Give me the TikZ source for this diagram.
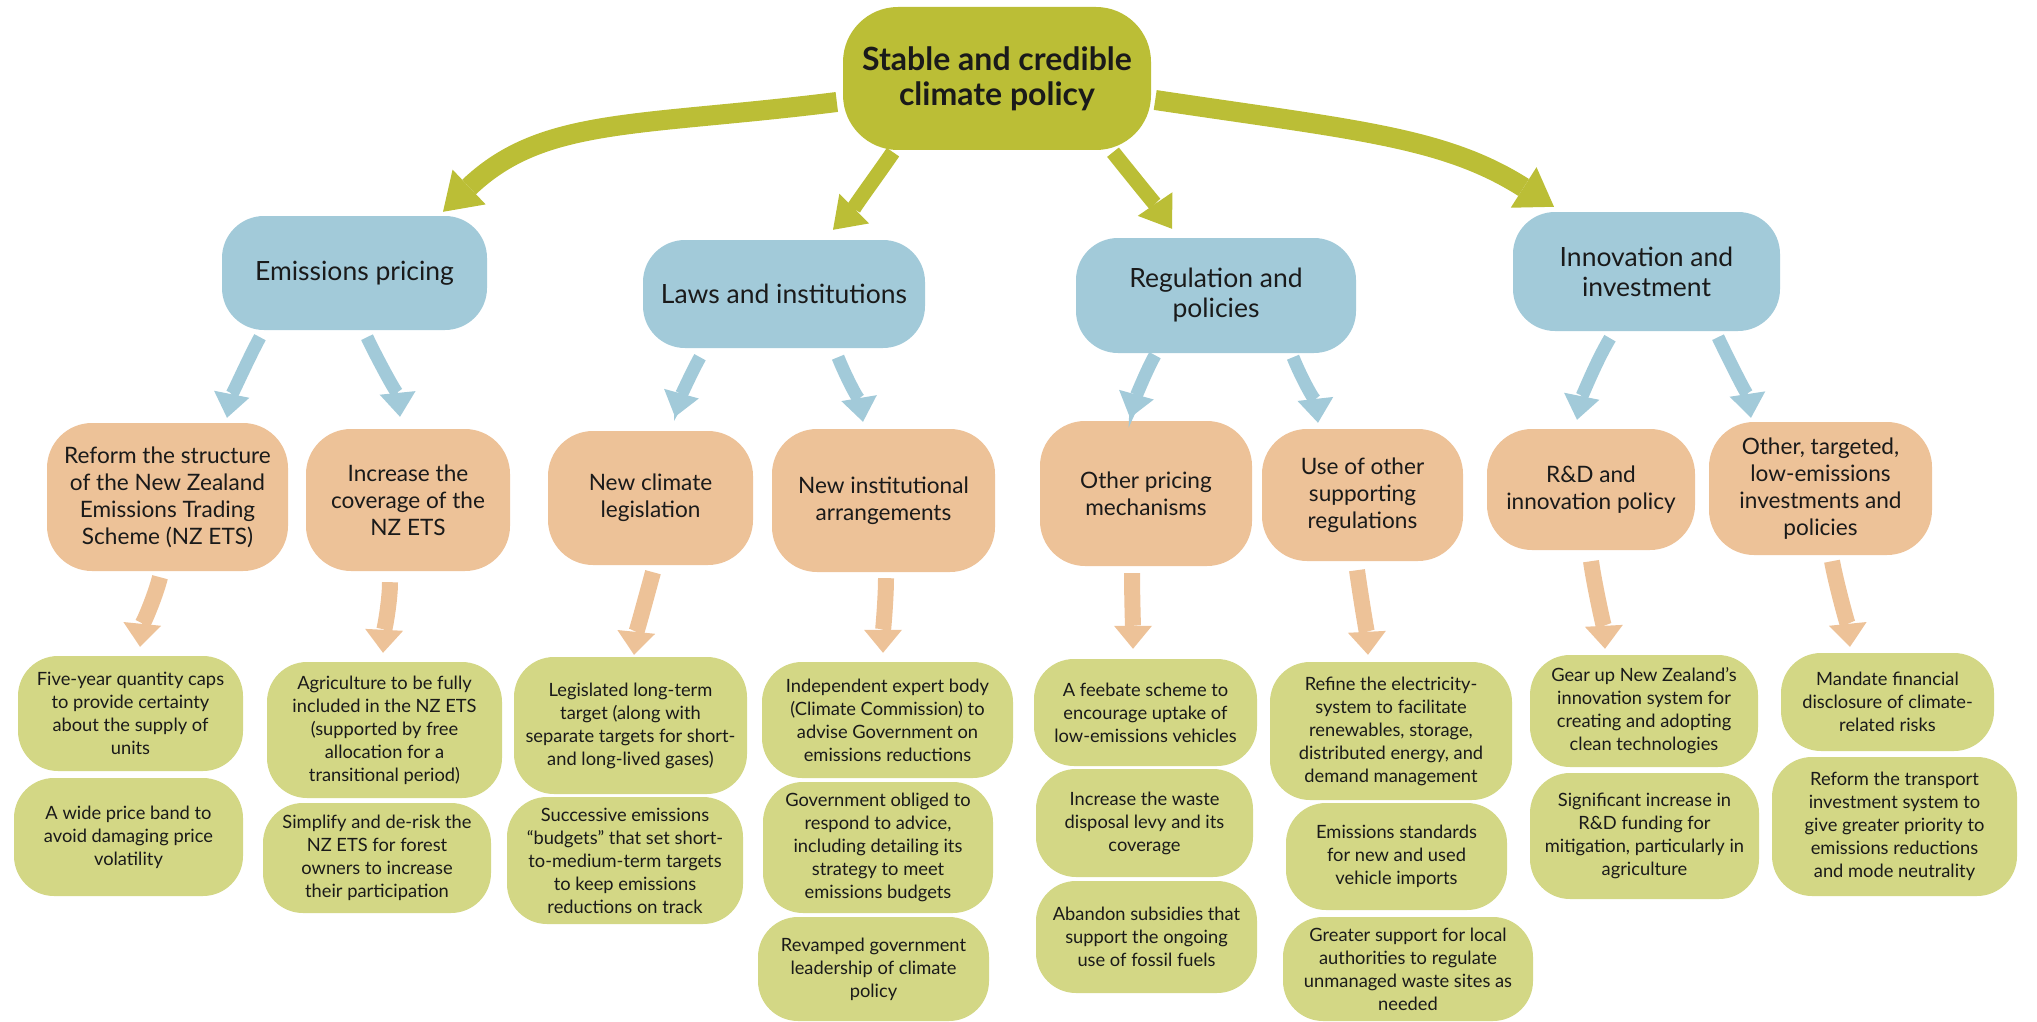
\documentclass[tikz,border=0pt]{standalone}
\usepackage{fontspec}
\setmainfont{Lato}
\usetikzlibrary{arrows.meta}
\definecolor{topg}{HTML}{BBBE36}
\definecolor{blu}{HTML}{A2CAD9}
\definecolor{ora}{HTML}{EDC298}
\definecolor{lgr}{HTML}{D3D785}
\definecolor{txt}{HTML}{1A1A1A}
\begin{document}
\begin{tikzpicture}[x=1pt,y=-1pt,
  every node/.style={inner sep=0pt, align=center, text=txt},
  wh/.style 2 args={minimum width=#1pt, minimum height=#2pt},
  topbox/.style={fill=topg, rounded corners=55pt, font=\fontsize{32}{35}\selectfont\bfseries},
  bluebox/.style={fill=blu, rounded corners=42pt, font=\fontsize{26.5}{30}\selectfont},
  orabox/.style={fill=ora, rounded corners=45pt, font=\fontsize{22.6}{27}\selectfont},
  grbox/.style={fill=lgr, rounded corners=40pt, font=\fontsize{18.3}{23}\selectfont},
  bigarrow/.style={draw=topg, line width=20pt, -{Triangle[width=48pt,length=36pt,line width=0pt]}},
  midarrow/.style={draw=topg, line width=15pt, -{Triangle[width=42pt,length=30pt,line width=0pt]}},
  bluarrow/.style={draw=blu, line width=13pt, -{Triangle[width=36pt,length=24pt,line width=0pt]}},
  oraarrow/.style={draw=ora, line width=16pt, -{Triangle[width=38pt,length=23pt,line width=0pt]}}]
\useasboundingbox (0,0) rectangle (2037,1022);

% top
\node[topbox, wh={308}{143}] (top) at (997,78.5) {Stable and credible\\climate policy};

% second level
\node[bluebox, wh={265}{114}] (ep) at (354.5,273) {Emissions pricing};
\node[bluebox, wh={282}{108}] (li) at (784,294) {Laws and institutions};
\node[bluebox, wh={280}{115}] (rp) at (1216,295.5) {Regulation and\\policies};
\node[bluebox, wh={267}{119}] (ii) at (1646.5,271.5) {Innovation and\\investment};

% third level
\node[orabox, wh={241}{148}] (o1) at (167.5,497) {Reform the structure\\of the New Zealand\\Emissions Trading\\Scheme (NZ ETS)};
\node[orabox, wh={204}{142}] (o2) at (408,500) {Increase the\\coverage of the\\NZ ETS};
\node[orabox, wh={205}{134}] (o3) at (650.5,498) {New climate\\legislation};
\node[orabox, wh={223}{143}] (o4) at (883.5,500.5) {New institutional\\arrangements};
\node[orabox, wh={212}{145}] (o5) at (1146,493.5) {Other pricing\\mechanisms};
\node[orabox, wh={201}{132}] (o6) at (1362.5,495) {Use of other\\supporting\\regulations};
\node[orabox, wh={208}{121}] (o7) at (1591,489.5) {R\&D and\\innovation policy};
\node[orabox, wh={223}{133}] (o8) at (1820.5,488.5) {Other, targeted,\\low-emissions\\investments and\\policies};

% fourth level
\node[grbox, wh={225}{115}] (g1a) at (130.5,713.5) {Five-year quantity caps\\to provide certainty\\about the supply of\\units};
\node[grbox, wh={229}{118}] (g1b) at (128.5,837) {A wide price band to\\avoid damaging price\\volatility};
\node[grbox, wh={235}{136}] (g2a) at (384.5,730) {Agriculture to be fully\\included in the NZ ETS\\(supported by free\\allocation for a\\transitional period)};
\node[grbox, wh={228}{110}] (g2b) at (377,858) {Simplify and de-risk the\\NZ ETS for forest\\owners to increase\\their participation};
\node[grbox, wh={233}{137}] (g3a) at (630.5,725.5) {Legislated long-term\\target (along with\\separate targets for short-\\and long-lived gases)};
\node[grbox, wh={236}{127}] (g3b) at (625,860.5) {Successive emissions\\“budgets” that set short-\\to-medium-term targets\\to keep emissions\\reductions on track};
\node[grbox, wh={251}{116}] (g4a) at (887.5,720) {Independent expert body\\(Climate Commission) to\\advise Government on\\emissions reductions};
\node[grbox, wh={230}{131}] (g4b) at (878,847.5) {Government obliged to\\respond to advice,\\including detailing its\\strategy to meet\\emissions budgets};
\node[grbox, wh={231}{104}] (g4c) at (873.5,969) {Revamped government\\leadership of climate\\policy};
\node[grbox, wh={223}{107}] (g5a) at (1145.5,712.5) {A feebate scheme to\\encourage uptake of\\low-emissions vehicles};
\node[grbox, wh={217}{108}] (g5b) at (1144.5,823) {Increase the waste\\disposal levy and its\\coverage};
\node[grbox, wh={221}{112}] (g5c) at (1146.5,937) {Abandon subsidies that\\support the ongoing\\use of fossil fuels};
\node[grbox, wh={242}{138}] (g6a) at (1391,731) {Refine the electricity-\\system to facilitate\\renewables, storage,\\distributed energy, and\\demand management};
\node[grbox, wh={221}{107}] (g6b) at (1396.5,856.5) {Emissions standards\\for new and used\\vehicle imports};
\node[grbox, wh={250}{104}] (g6c) at (1408,969) {Greater support for local\\authorities to regulate\\unmanaged waste sites as\\needed};
\node[grbox, wh={228}{112}] (g7a) at (1644,711) {Gear up New Zealand’s\\innovation system for\\creating and adopting\\clean technologies};
\node[grbox, wh={229}{126}] (g7b) at (1644.5,836) {Significant increase in\\R\&D funding for\\mitigation, particularly in\\agriculture};
\node[grbox, wh={213}{98}] (g8a) at (1887.5,702) {Mandate financial\\disclosure of climate-\\related risks};
\node[grbox, wh={245}{139}] (g8b) at (1894.5,826.5) {Reform the transport\\investment system to\\give greater priority to\\emissions reductions\\and mode neutrality};

% green arrows
\draw[bigarrow] ([shift={(-6,23.5)}]top.west) .. controls +(-200,25) and +(100,-95) .. ([shift={(88.5,-4)}]ep.north);
\draw[bigarrow] ([shift={(4,21.5)}]top.east) .. controls +(200,30) and +(-110,-70) .. ([shift={(-92.5,-5)}]ii.north);
\draw[midarrow] ([shift={(-104,2)}]top.south) .. controls +(-15,22) and +(15,-15) .. ([shift={(49,-10)}]li.north);
\draw[midarrow] ([shift={(116,2)}]top.south) .. controls +(20,25) and +(-15,-22) .. ([shift={(-44,-9)}]rp.north);

% blue arrows
\draw[bluarrow] ([shift={(-94.5,7)}]ep.south) .. controls +(-12,22) and +(4,-20) .. ([shift={(59.5,-5)}]o1.north);
\draw[bluarrow] ([shift={(12.5,7)}]ep.south) .. controls +(12,25) and +(-2,-20) .. ([shift={(-8,-12)}]o2.north);
\draw[bluarrow] ([shift={(-84,9)}]li.south) .. controls +(-10,18) and +(5,-18) .. ([shift={(24.5,-14)}]o3.north);
\draw[bluarrow] ([shift={(54,9)}]li.south) .. controls +(8,20) and +(-3,-18) .. ([shift={(-20.5,-7)}]o4.north);
\draw[bluarrow] ([shift={(-61,2)}]rp.south) .. controls +(-10,18) and +(5,-18) .. ([shift={(-16,-3)}]o5.north);
\draw[bluarrow] ([shift={(77,4)}]rp.south) .. controls +(8,20) and +(-2,-18) .. ([shift={(-44.5,-6)}]o6.north);
\draw[bluarrow] ([shift={(-36.5,7)}]ii.south) .. controls +(-15,25) and +(4,-20) .. ([shift={(-14,-9)}]o7.north);
\draw[bluarrow] ([shift={(71.5,6)}]ii.south) .. controls +(12,25) and +(-3,-20) .. ([shift={(-69.5,-4)}]o8.north);

% orange arrows
\draw[oraarrow] ([shift={(-7.5,6)}]o1.south) .. controls +(-5,20) and +(2,-20) .. ([shift={(9.5,-9)}]g1a.north);
\draw[oraarrow] ([shift={(-18,11)}]o2.south) .. controls +(0,20) and +(1,-20) .. ([shift={(-1.5,-9)}]g2a.north);
\draw[oraarrow] ([shift={(2.5,7)}]o3.south) .. controls +(-6,22) and +(2,-20) .. ([shift={(3.5,-2)}]g3a.north);
\draw[oraarrow] ([shift={(2.5,6)}]o4.south) .. controls +(0,20) and +(0,-20) .. ([shift={(-4.5,-9)}]g4a.north);
\draw[oraarrow] ([shift={(-14,7)}]o5.south) .. controls +(0,20) and +(0,-20) .. ([shift={(-12.5,-10)}]g5a.north);
\draw[oraarrow] ([shift={(-5.5,9)}]o6.south) .. controls +(3,22) and +(-1,-20) .. ([shift={(-23,-7)}]g6a.north);
\draw[oraarrow] ([shift={(0,11)}]o7.south) .. controls +(3,22) and +(-1,-20) .. ([shift={(-39,-6)}]g7a.north);
\draw[oraarrow] ([shift={(11.5,6)}]o8.south) .. controls +(4,22) and +(-2,-20) .. ([shift={(-37.5,-6)}]g8a.north);
\end{tikzpicture}
\end{document}
